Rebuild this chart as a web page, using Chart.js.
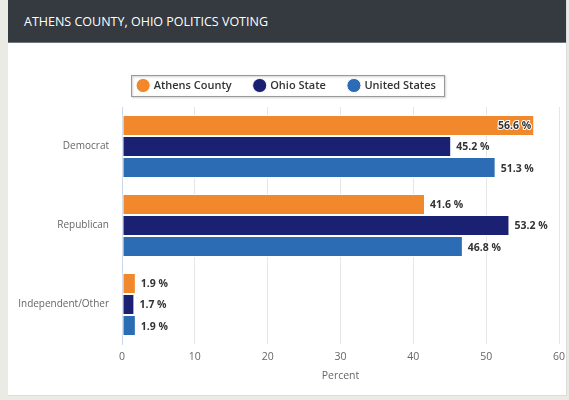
<!DOCTYPE html>
<html>
<head>
<meta charset="utf-8">
<script src="https://cdn.jsdelivr.net/npm/chart.js@4/dist/chart.umd.min.js"></script>
<style>
    body { margin: 0; background: #ebebe5; font-family: "Open Sans", sans-serif; }
    .card { position: absolute; left: 8px; top: 0; width: 558px; height: 395px; background: #fff; border-right: 1px solid #dcdcdc; border-bottom: 1px solid #dcdcdc; }
    .card-header { height: 43px; background: #343a40; color: #fff; font-size: 12.5px; line-height: 43px; padding-left: 16px; border-bottom: 1px solid #6c757d; box-sizing: border-box; }
    .chart-box { position: absolute; left: 0; top: 43px; width: 558px; height: 352px; }
</style>
</head>
<body>
<div class="card">
    <div class="card-header">ATHENS COUNTY, OHIO POLITICS VOTING</div>
    <div class="chart-box"><canvas id="graph"></canvas></div>
</div>
<script>
/* Donnees du graphique */
var categories = ["Democrat", "Republican", "Independent/Other"];
var athensCounty = [56.6, 41.6, 1.9];
var ohioState = [45.2, 53.2, 1.7];
var unitedStates = [51.3, 46.8, 1.9];
var xTicks = [0, 10, 20, 30, 40, 50, 60];

var police = "'Open Sans', sans-serif";

/* Hauteur fixe de la legende */
var hauteurLegende = {
    id: "hauteurLegende",
    afterInit: function(chart) {
        var legende = chart.legend;
        var fitOrig = legende.fit;
        legende.fit = function() {
            fitOrig.call(this);
            this.height = 50;
        };
    }
};

/* Cadre autour de la legende */
var cadreLegende = {
    id: "cadreLegende",
    afterDraw: function(chart) {
        var boxes = chart.legend.legendHitBoxes;
        if (!boxes || !boxes.length) return;
        var last = boxes[boxes.length - 1];
        var left = boxes[0].left - 7;
        var right = last.left + last.width + 8;
        var top = boxes[0].top - 5;
        var bottom = boxes[0].top + boxes[0].height + 5;
        var ctx = chart.ctx;
        ctx.save();
        ctx.shadowColor = "rgba(0,0,0,0.25)";
        ctx.shadowBlur = 2;
        ctx.shadowOffsetX = 1;
        ctx.shadowOffsetY = 1;
        ctx.strokeStyle = "#999";
        ctx.lineWidth = 1;
        ctx.strokeRect(Math.round(left) + 0.5, Math.round(top) + 0.5, Math.round(right - left), Math.round(bottom - top));
        ctx.restore();
    }
};

/* Etiquettes des valeurs */
var etiquettes = {
    id: "etiquettes",
    afterDatasetsDraw: function(chart) {
        var ctx = chart.ctx;
        ctx.save();
        ctx.font = "bold 10.5px " + police;
        ctx.textBaseline = "middle";
        ctx.lineJoin = "round";
        chart.data.datasets.forEach(function(ds, i) {
            chart.getDatasetMeta(i).data.forEach(function(bar, j) {
                var txt = ds.data[j].toFixed(1) + " %";
                var w = ctx.measureText(txt).width;
                var x = bar.x + 5;
                if (x + w > chart.chartArea.right) {
                    x = bar.x - 3 - w;
                }
                ctx.strokeStyle = "#fff";
                ctx.lineWidth = 2;
                ctx.strokeText(txt, x, bar.y + 1);
                ctx.fillStyle = "#333";
                ctx.fillText(txt, x, bar.y + 1);
            });
        });
        ctx.restore();
    }
};

var graph = document.getElementById("graph").getContext("2d");

var myChart = new Chart(graph, {
    type: "bar",
    data: {
        labels: categories,
        datasets: [
            { label: "Athens County", data: athensCounty, backgroundColor: "#f2882c" },
            { label: "Ohio State", data: ohioState, backgroundColor: "#1a2072" },
            { label: "United States", data: unitedStates, backgroundColor: "#2c6cb4" },
        ],
    },
    options: {
        indexAxis: "y",
        responsive: true,
        maintainAspectRatio: false,
        animation: false,
        datasets: {
            bar: {
                categoryPercentage: 0.8,
                barPercentage: 1.0,
                borderColor: "#fff",
                borderWidth: 1,
                borderSkipped: false,
            },
        },
        layout: {
            padding: { top: 14, right: 0, bottom: 13, left: 0 },
        },
        scales: {
            x: {
                min: 0,
                max: 60,
                afterBuildTicks: function(scale) {
                    scale.ticks = xTicks.map(function(v) { return { value: v }; });
                },
                grid: { color: "#e6e6e6", drawTicks: false },
                border: { display: false },
                ticks: { color: "#666", font: { family: police, size: 10.5 }, padding: 7 },
                title: { display: true, text: "Percent", color: "#666", font: { family: police, size: 10.5 }, padding: { top: 2, bottom: 0 } },
                afterFit: function(scale) {
                    scale.height = 38;
                    scale.paddingRight = 7;
                },
            },
            y: {
                grid: { display: false, drawTicks: false },
                border: { display: true, color: "#ccd6eb" },
                ticks: { color: "#666", font: { family: police, size: 10 }, padding: 13 },
                afterFit: function(scale) { scale.width = 114; },
            },
        },
        plugins: {
            legend: {
                position: "top",
                labels: {
                    usePointStyle: true,
                    pointStyle: "circle",
                    boxWidth: 10,
                    boxHeight: 10,
                    padding: 23,
                    color: "#333",
                    font: { family: police, size: 11, weight: "600" },
                },
            },
            tooltip: { enabled: false },
        },
    },
    plugins: [hauteurLegende, cadreLegende, etiquettes],
});
</script>
</body>
</html>
